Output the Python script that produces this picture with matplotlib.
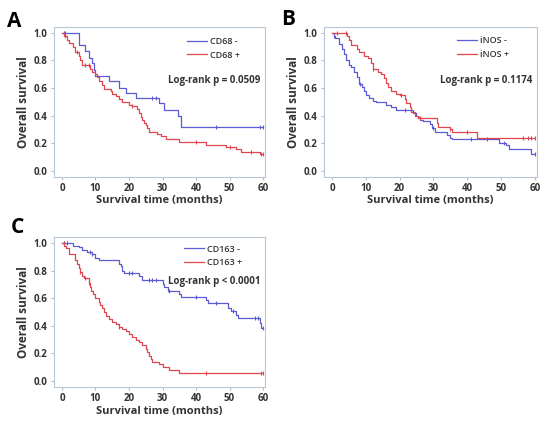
import matplotlib

matplotlib.use("Agg")
import matplotlib.pyplot as plt
import numpy as np

plt.rcParams["font.family"] = ["Open Sans", "DejaVu Sans"]

BLUE = "#5a5ad2"
RED = "#e0464f"
FRAME = "#b8c8d8"
TEXT = "#333333"

# panel A: CD68
a_neg_t = [0, 5, 7, 8, 9, 9.5, 10, 14, 17, 19, 22, 29, 30.5, 34.5, 35.5]
a_neg_s = [1.0, 0.91, 0.87, 0.82, 0.78, 0.73, 0.69, 0.65, 0.60, 0.565, 0.53, 0.49, 0.44, 0.40, 0.32]
a_neg_cens = [0.5, 1, 27, 28, 46, 59, 60]
a_pos_t = [0, 0.5, 1.5, 2, 3.3, 4, 5, 5.5, 6, 8.5, 9, 10, 10.5, 11, 12, 12.5, 14.5, 15, 16, 17,
           18, 20, 21, 22.5, 23, 23.5, 24, 24.5, 25, 25.5, 26, 28.5, 29.5, 31, 35, 43, 49, 52, 53.5, 59]
a_pos_s = [1.0, 0.98, 0.95, 0.93, 0.90, 0.86, 0.83, 0.80, 0.77, 0.74, 0.72, 0.70, 0.68, 0.65, 0.62, 0.59, 0.58, 0.56, 0.54, 0.52,
           0.50, 0.48, 0.47, 0.45, 0.42, 0.39, 0.37, 0.35, 0.33, 0.31, 0.285, 0.27, 0.25, 0.23, 0.21, 0.19, 0.17, 0.16, 0.14, 0.12]
a_pos_cens = [0.8, 4.5, 7, 8, 21, 40, 50, 56.5, 59.5, 60]

# panel B: iNOS
b_neg_t = [0, 0.5, 1, 2, 3, 3.5, 4, 5, 5.5, 6.5, 7.5, 8, 9, 9.5, 10, 11, 12, 13, 16, 17.5,
           19, 24, 24.8, 25.5, 26, 27, 29, 29.5, 30.5, 34, 35, 35.5, 49.5, 51.5, 52.5, 59]
b_neg_s = [1.0, 0.98, 0.96, 0.92, 0.88, 0.85, 0.80, 0.77, 0.75, 0.72, 0.68, 0.63, 0.61, 0.58, 0.55, 0.53, 0.51, 0.50, 0.48, 0.46,
           0.44, 0.42, 0.40, 0.39, 0.37, 0.36, 0.34, 0.31, 0.28, 0.26, 0.24, 0.23, 0.20, 0.19, 0.16, 0.12]
b_neg_cens = [0.7, 8.3, 21.5, 30, 41, 46, 51, 60]
b_pos_t = [0, 4.5, 5, 5.5, 7.5, 8, 9.5, 10.5, 11.5, 12, 13.5, 14.5, 15.5, 16, 16.5, 17.5, 19, 20,
           21.5, 22, 23, 23.5, 24.5, 25.5, 31, 31.5, 35, 35.5, 43]
b_pos_s = [1.0, 0.98, 0.95, 0.91, 0.88, 0.86, 0.83, 0.82, 0.78, 0.74, 0.72, 0.70, 0.67, 0.64, 0.61, 0.58, 0.56, 0.55,
           0.52, 0.49, 0.46, 0.43, 0.40, 0.38, 0.35, 0.32, 0.30, 0.28, 0.24]
b_pos_cens = [1.5, 4, 12, 20.5, 26, 35, 40, 56.5, 58, 59, 60]

# panel C: CD163
c_neg_t = [0, 3.3, 5, 6, 7.5, 9, 10, 11, 17, 17.5, 18, 18.5, 23, 24, 30, 30.5, 31.5, 35, 35.5,
           43, 43.5, 49.5, 50.5, 52, 52.5, 59, 59.5]
c_neg_s = [1.0, 0.98, 0.97, 0.95, 0.935, 0.92, 0.89, 0.875, 0.85, 0.83, 0.80, 0.785, 0.76, 0.73, 0.70, 0.68, 0.655, 0.63, 0.61,
           0.59, 0.565, 0.53, 0.51, 0.48, 0.455, 0.42, 0.385]
c_neg_cens = [0.5, 1.5, 8.5, 9, 20, 21, 26, 27, 28, 32, 40, 46, 51, 57.5, 58.5, 60]
c_pos_t = [0, 0.7, 1.2, 2, 4, 4.5, 5, 5.5, 6, 6.5, 8, 8.3, 8.8, 9.3, 10, 11, 11.5, 12, 12.5, 13,
           14, 15, 16, 17, 18, 19, 20, 21, 22, 23, 24, 25, 25.5, 26, 26.5, 27, 29, 30, 32, 35]
c_pos_s = [1.0, 0.98, 0.96, 0.92, 0.88, 0.85, 0.82, 0.79, 0.76, 0.745, 0.71, 0.68, 0.65, 0.63, 0.60, 0.57, 0.55, 0.53, 0.50, 0.47,
           0.45, 0.43, 0.41, 0.39, 0.38, 0.36, 0.34, 0.32, 0.30, 0.28, 0.26, 0.23, 0.21, 0.18, 0.16, 0.14, 0.12, 0.10, 0.08, 0.06]
c_pos_cens = [0.5, 5.5, 7, 8, 17, 43, 59.5, 60]

PANELS = [
    ("A", "CD68", a_neg_t, a_neg_s, a_neg_cens, a_pos_t, a_pos_s, a_pos_cens, "Log-rank p = 0.0509"),
    ("B", "iNOS", b_neg_t, b_neg_s, b_neg_cens, b_pos_t, b_pos_s, b_pos_cens, "Log-rank p = 0.1174"),
    ("C", "CD163", c_neg_t, c_neg_s, c_neg_cens, c_pos_t, c_pos_s, c_pos_cens, "Log-rank p < 0.0001"),
]
AXES_RECTS = {
    "A": [0.098, 0.580, 0.384, 0.356],
    "B": [0.589, 0.580, 0.387, 0.356],
    "C": [0.098, 0.081, 0.384, 0.356],
}
LETTER_POS = {"A": (0.012, 0.975), "B": (0.512, 0.978), "C": (0.02, 0.485)}
LEGEND_POS = {"A": (0.63, 0.935), "B": (0.625, 0.94), "C": (0.615, 0.95)}
PVAL_Y = {"A": 0.64, "B": 0.64, "C": 0.70}


def draw_curve(ax, times, surv, cens, color, label):
    t = list(times) + [60]
    s = list(surv) + [surv[-1]]
    ax.step(t, s, where="post", color=color, linewidth=0.9, label=label)
    idx = np.searchsorted(np.array(times), np.array(cens), side="right") - 1
    ax.plot(cens, np.array(surv)[idx], linestyle="none", marker="|",
            markersize=3, markeredgewidth=0.8, color=color)


fig = plt.figure(figsize=(5.5, 4.21), dpi=100)
for letter, name, nt, ns, nc, pt, ps, pc, ptext in PANELS:
    ax = fig.add_axes(AXES_RECTS[letter])
    draw_curve(ax, nt, ns, nc, BLUE, f"{name} -")
    draw_curve(ax, pt, ps, pc, RED, f"{name} +")
    ax.set_xlim(-2.4, 60.6)
    ax.set_ylim(-0.043, 1.043)
    ax.set_xticks(range(0, 61, 10))
    ax.set_yticks(np.arange(0, 1.01, 0.2))
    ax.set_yticklabels([f"{v:.1f}" for v in np.arange(0, 1.01, 0.2)])
    for spine in ax.spines.values():
        spine.set_color(FRAME)
        spine.set_linewidth(0.8)
    ax.tick_params(length=2.5, width=0.6, color="#aaaaaa", labelsize=7, labelcolor=TEXT, pad=2)
    for lbl in ax.get_xticklabels() + ax.get_yticklabels():
        lbl.set_fontweight("bold")
    ax.set_xlabel("Survival time (months)", fontsize=8, fontweight="bold", color=TEXT, labelpad=1)
    ax.set_ylabel("Overall survival", fontsize=8.5, fontweight="bold", color=TEXT, labelpad=3)
    leg = ax.legend(loc="upper left", bbox_to_anchor=LEGEND_POS[letter], frameon=False,
                    prop={"size": 6.5, "weight": "semibold"}, handlelength=2.2, handletextpad=0.4,
                    labelspacing=0.55, borderpad=0, borderaxespad=0)
    for txt in leg.get_texts():
        txt.set_color(TEXT)
    ax.text(0.76, PVAL_Y[letter], ptext, transform=ax.transAxes, ha="center", va="center",
            fontsize=7, fontweight="bold", color=TEXT)
    lx, ly = LETTER_POS[letter]
    fig.text(lx, ly, letter, ha="left", va="top", fontsize=15, fontweight="bold", color="black")

fig.savefig("out.png", dpi=100)
